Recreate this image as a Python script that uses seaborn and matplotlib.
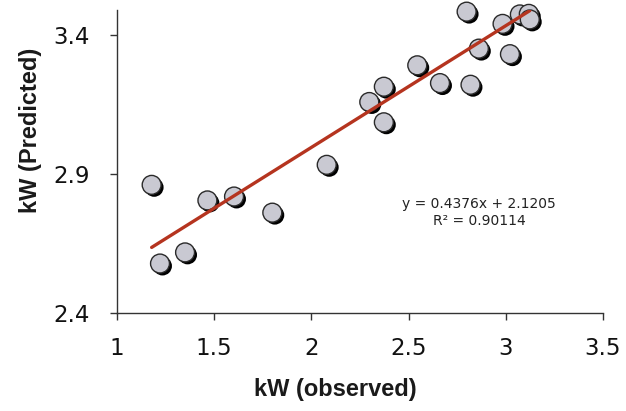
import numpy as np
import pandas as pd
import matplotlib
matplotlib.use("Agg")
import matplotlib.pyplot as plt
import matplotlib.patheffects as pe
import seaborn as sns

# Observed vs. predicted power (kW)
kw_observed = [1.178, 1.221, 1.350, 1.465, 1.602, 1.799, 2.079, 2.298, 2.373, 2.373,
               2.545, 2.662, 2.819, 2.799, 2.862, 2.984, 3.022, 3.073, 3.119, 3.124]
kw_predicted = [2.861, 2.578, 2.618, 2.805, 2.819, 2.761, 2.933, 3.159, 3.214, 3.086,
                3.291, 3.227, 3.221, 3.484, 3.351, 3.440, 3.331, 3.474, 3.476, 3.456]

# Linear trend line
slope = 0.4376
intercept = 2.1205
r_squared = 0.90114

x_ticks = [1, 1.5, 2, 2.5, 3, 3.5]
y_ticks = [2.4, 2.9, 3.4]

df = pd.DataFrame({"observed": kw_observed, "predicted": kw_predicted})
x_fit = np.array([min(kw_observed), max(kw_observed)])
trend = pd.DataFrame({"x": x_fit, "y": slope * x_fit + intercept})

sns.set_theme(style="ticks")
plt.rcParams["font.family"] = ["DejaVu Sans"]

fig = plt.figure(figsize=(6.26, 4.11), dpi=100)
ax = fig.add_axes([0.187, 0.2384, 0.776, 0.7373])

sns.scatterplot(data=df, x="observed", y="predicted", ax=ax, s=185,
                color="#c9c9d2", edgecolor="#2a2a2a", linewidth=1.0, zorder=3,
                clip_on=False)
for coll in ax.collections:
    coll.set_path_effects([pe.SimplePatchShadow(offset=(1.8, -1.8), shadow_rgbFace="black", alpha=1.0),
                           pe.Normal()])

sns.lineplot(data=trend, x="x", y="y", ax=ax, color="#b5341f", linewidth=2.4, zorder=4)

ax.set_xlim(1, 3.5)
ax.set_ylim(2.4, 3.49)
ax.set_xticks(x_ticks)
ax.set_xticklabels([f"{t:g}" for t in x_ticks])
ax.set_yticks(y_ticks)
ax.set_yticklabels([f"{t:g}" for t in y_ticks])
ax.tick_params(axis="both", labelsize=16.5, length=5, width=1, color="#333333",
               labelcolor="#111111")
ax.tick_params(axis="x", pad=12)
ax.tick_params(axis="y", pad=14.5)

for side in ["top", "right"]:
    ax.spines[side].set_visible(False)
for side in ["left", "bottom"]:
    ax.spines[side].set_color("#333333")
    ax.spines[side].set_linewidth(1.0)

ax.set_xlabel("kW (observed)", fontsize=17, family=["Liberation Sans"], weight="bold",
              color="#1a1a1a", va="center")
ax.set_ylabel("kW (Predicted)", fontsize=17, family=["Liberation Sans"], weight="bold",
              color="#1a1a1a", va="center")
ax.xaxis.set_label_coords(0.449, -0.254)
ax.yaxis.set_label_coords(-0.179, 0.604)

ax.text(0.745, 0.332, f"y = {slope}x + {intercept}\nR² = {r_squared}", transform=ax.transAxes,
        ha="center", va="center", fontsize=10, color="#222222", linespacing=1.25)

fig.savefig("out.png", dpi=100)
